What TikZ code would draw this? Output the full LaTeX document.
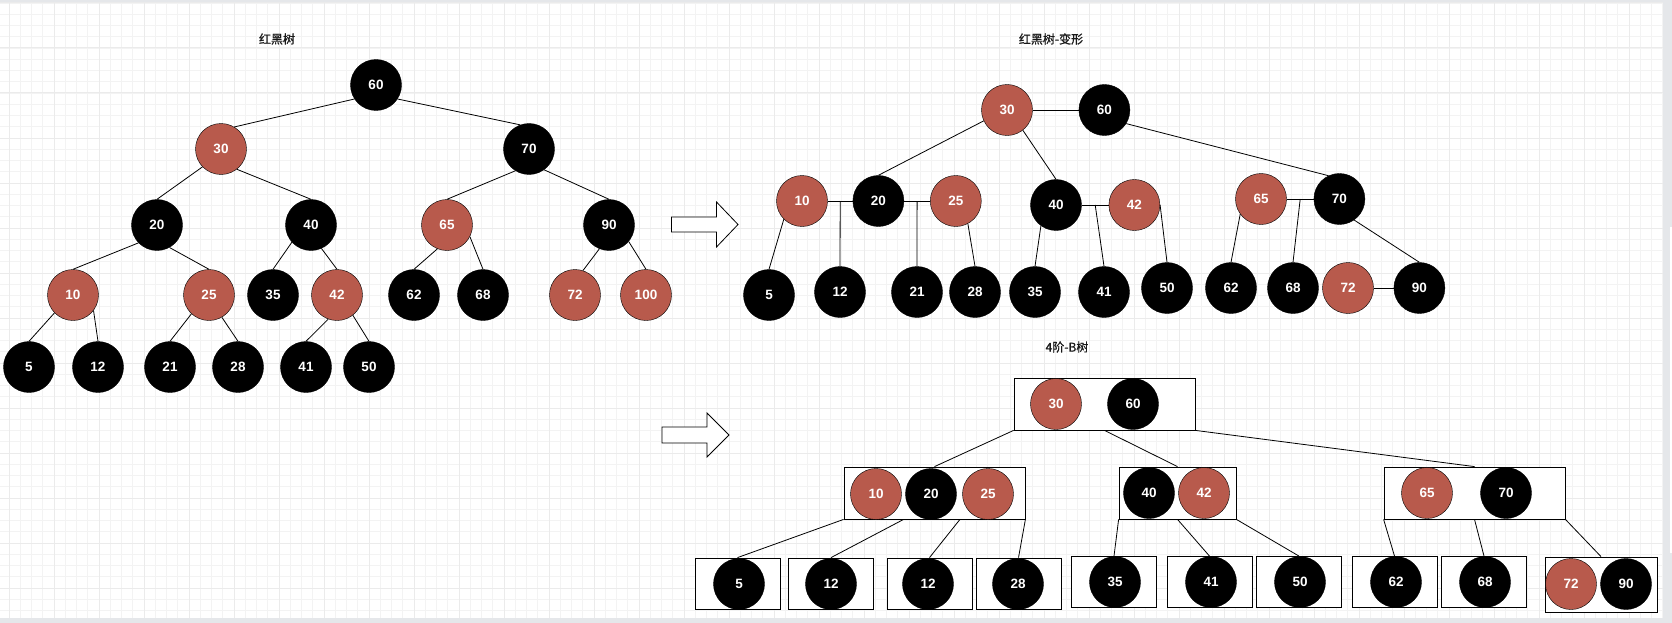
\documentclass[tikz,border=0pt]{standalone}
\usepackage{fontspec}
\setmainfont{Liberation Sans}
\newfontfamily\cjkfont[FakeBold=1]{Noto Sans CJK SC}
\usetikzlibrary{positioning, calc}
\definecolor{rbred}{HTML}{B85A4C}
\definecolor{framegray}{HTML}{E5E7EA}
\definecolor{gridminor}{HTML}{F3F3F3}
\definecolor{gridmajor}{HTML}{EBEBEB}

\begin{document}
\begin{tikzpicture}[x=1pt, y=-1pt, node distance=4pt and 4pt]
		% Styles
		\tikzstyle{blacknode} = [circle, draw, fill=black, text=white,
		minimum size=51pt, inner sep=0pt, font=\fontsize{13.5}{15}\selectfont\bfseries]
		\tikzstyle{rednode} = [blacknode, fill=rbred]
		\tikzstyle{keybox} = [rectangle, draw, fill=white, inner sep=0pt,
		minimum width=85pt, minimum height=51pt, line width=0.8pt]
		\tikzstyle{line} = [draw, line width=0.8pt]
		\tikzstyle{title} = [font=\cjkfont\fontsize{12}{14}\selectfont, text=black!90]
		\tikzstyle{bigarrow} = [draw, fill=white, line width=0.8pt]
		
		% Canvas
		\useasboundingbox (0,0) rectangle (1672,623);
		\fill[framegray] (0,0) rectangle (1672,623);
		\fill[white] (0,3) rectangle (1663,618);
		\fill[white] (1669.5,227) rectangle (1671.5,553);
		\begin{scope}
			\clip (0,3) rectangle (1663,618);
			\foreach \k in {0,...,147} \draw[gridminor, line width=0.8pt] ({9+11.25*\k},3) -- ++(0,615);
			\foreach \k in {0,...,54} \draw[gridminor, line width=0.8pt] (0,{3+11.25*\k}) -- ++(1663,0);
			\foreach \k in {0,...,36} \draw[gridmajor, line width=1pt] ({9+45*\k},3) -- ++(0,615);
			\foreach \k in {0,...,13} \draw[gridmajor, line width=1pt] (0,{3+45*\k}) -- ++(1663,0);
		\end{scope}
		
		% Titles
		\node [title] (title1) at (277,39) {红黑树};
		\node [title] (title2) at (1051,39) {红黑树-变形};
		\node [title] (title3) at (1067,347) {4阶-B树};
		
		% Red-black tree
		\node [blacknode] (t1n60) at (376,85) {60};
		\node [rednode] (t1n30) at (221,149) {30};
		\node [blacknode] (t1n70) at (529,149) {70};
		\node [blacknode] (t1n20) at (157,225) {20};
		\node [blacknode] (t1n40) at (311,225) {40};
		\node [rednode] (t1n65) at (447,225) {65};
		\node [blacknode] (t1n90) at (609,225) {90};
		\node [rednode] (t1n10) at (73,295) {10};
		\node [rednode] (t1n25) at (209,295) {25};
		\node [blacknode] (t1n35) at (273,295) {35};
		\node [rednode] (t1n42) at (337,295) {42};
		\node [blacknode] (t1n62) at (414,295) {62};
		\node [blacknode] (t1n68) at (483,295) {68};
		\node [rednode] (t1n72) at (575,295) {72};
		\node [rednode] (t1n100) at (646,295) {100};
		\node [blacknode] (t1n5) at (29,367) {5};
		\node [blacknode] (t1n12) at (98,367) {12};
		\node [blacknode] (t1n21) at (170,367) {21};
		\node [blacknode] (t1n28) at (238,367) {28};
		\node [blacknode] (t1n41) at (306,367) {41};
		\node [blacknode] (t1n50) at (369,367) {50};
		
		\path [line] (t1n60.213) -- (t1n30.59);
		\path [line] (t1n60.-33) -- (t1n70.110);
		\path [line] (t1n30.224) -- (t1n20.north);
		\path [line] (t1n30.-52) -- (t1n40.north);
		\path [line] (t1n70.-122) -- (t1n65.north);
		\path [line] (t1n70.-54) -- (t1n90.north);
		\path [line] (t1n20.224) -- (t1n10.north);
		\path [line] (t1n20.-61) -- (t1n25.north);
		\path [line] (t1n40.222) -- (t1n35.north);
		\path [line] (t1n40.-66) -- (t1n42.north);
		\path [line] (t1n65.-112) -- (t1n62.north);
		\path [line] (t1n65.-27) -- (t1n68.north);
		\path [line] (t1n90.-112) -- (t1n72.72);
		\path [line] (t1n90.-40) -- (t1n100.north);
		\path [line] (t1n10.224) -- (t1n5.north);
		\path [line] (t1n10.-37) -- (t1n12.north);
		\path [line] (t1n25.227) -- (t1n21.north);
		\path [line] (t1n25.-60) -- (t1n28.north);
		\path [line] (t1n42.-110) -- (t1n41.north);
		\path [line] (t1n42.-52) -- (t1n50.north);
		
		% Arrows
		\draw [bigarrow] (671.5,217) -- ++(45,0) -- ++(0,-15) -- ++(21.5,22.5)
			-- ++(-21.5,22.5) -- ++(0,-15) -- ++(-45,0) -- cycle;
		\draw [bigarrow] (662,427) -- ++(45,0) -- ++(0,-14) -- ++(22,22)
			-- ++(-22,22) -- ++(0,-14) -- ++(-45,0) -- cycle;
		
		% Red-black tree, variant
		\node [rednode] (t2n30) at (1007,110) {30};
		\node [blacknode, right=46pt of t2n30] (t2n60) {60};
		\node [rednode] (t2n10) at (802,201) {10};
		\node [blacknode, right=25pt of t2n10] (t2n20) {20};
		\node [rednode, right=26pt of t2n20] (t2n25) {25};
		\node [blacknode] (t2n40) at (1056,205) {40};
		\node [rednode, right=27pt of t2n40] (t2n42) {42};
		\node [rednode] (t2n65) at (1261,199) {65};
		\node [blacknode, right=27pt of t2n65] (t2n70) {70};
		\node [blacknode] (t2n5) at (769,295) {5};
		\node [blacknode] (t2n12) at (840,292) {12};
		\node [blacknode] (t2n21) at (917,292) {21};
		\node [blacknode] (t2n28) at (975,292) {28};
		\node [blacknode] (t2n35) at (1035,292) {35};
		\node [blacknode] (t2n41) at (1104,292) {41};
		\node [blacknode] (t2n50) at (1167,288) {50};
		\node [blacknode] (t2n62) at (1231,288) {62};
		\node [blacknode] (t2n68) at (1293,288) {68};
		\node [rednode] (t2n72) at (1348,288) {72};
		\node [blacknode, right=20pt of t2n72] (t2n90) {90};
		
		\path [line] (t2n30) -- (t2n60);
		\path [line] (t2n30.205) -- (t2n20.north);
		\path [line] (t2n30.-52) -- (t2n40.north);
		\path [line] (t2n60.-32) -- (t2n70.115);
		\path [line] (t2n10) -- coordinate[midway] (t2m12) (t2n20);
		\path [line] (t2n20) -- coordinate[midway] (t2m21) (t2n25);
		\path [line] (t2n40) -- coordinate[midway] (t2m41) (t2n42);
		\path [line] (t2n65) -- coordinate[midway] (t2m68) (t2n70);
		\path [line] (t2n72) -- (t2n90);
		\path [line] (t2n10.225) -- (t2n5.north);
		\path [line] (t2m12) -- (t2n12.north);
		\path [line] (t2m21) -- (t2n21.north);
		\path [line] (t2n25.-62) -- (t2n28.north);
		\path [line] (t2n40.-126) -- (t2n35.north);
		\path [line] (t2m41) -- (t2n41.north);
		\path [line] (t2n42.east) -- (t2n50.north);
		\path [line] (t2n65.-144) -- (t2n62.north);
		\path [line] (t2m68) -- (t2n68.north);
		\path [line] (t2n70.-55) -- (t2n90.north);
		
		% B-tree of order 4
		\node [keybox, minimum width=181pt, minimum height=52pt] (t3root) at (1104.5,404) {};
		\node [keybox, minimum width=181pt, minimum height=52pt] (t3L) at (934.5,493) {};
		\node [keybox, minimum width=117pt, minimum height=52pt] (t3M) at (1177.5,493) {};
		\node [keybox, minimum width=181pt, minimum height=52pt] (t3R) at (1474.5,493) {};
		\node [keybox] (t3b5) at (737.5,583.5) {};
		\node [keybox] (t3b12) at (831,583.5) {};
		\node [keybox] (t3b12b) at (929.5,583.5) {};
		\node [keybox] (t3b28) at (1018.5,583.5) {};
		\node [keybox] (t3b35) at (1114,582) {};
		\node [keybox] (t3b41) at (1209.5,582) {};
		\node [keybox] (t3b50) at (1299,582) {};
		\node [keybox] (t3b62) at (1394.5,582) {};
		\node [keybox] (t3b68) at (1484,582) {};
		\node [keybox, minimum width=112pt, minimum height=55pt] (t3b72) at (1601,584.5) {};
		
		\node [rednode] (t3n30) at (1056,404) {30};
		\node [blacknode] (t3n60) at (1133,404) {60};
		\node [rednode] (t3n10) at (876,494) {10};
		\node [blacknode] (t3n20) at (931,494) {20};
		\node [rednode] (t3n25) at (988,494) {25};
		\node [blacknode] (t3n40) at (1149,493) {40};
		\node [rednode] (t3n42) at (1204,493) {42};
		\node [rednode] (t3n65) at (1427,493) {65};
		\node [blacknode] (t3n70) at (1506,493) {70};
		\node [blacknode] (t3n5) at (739,584) {5};
		\node [blacknode] (t3n12) at (831,584) {12};
		\node [blacknode] (t3n12b) at (928,584) {12};
		\node [blacknode] (t3n28) at (1018,584) {28};
		\node [blacknode] (t3n35) at (1115,582) {35};
		\node [blacknode] (t3n41) at (1211,582) {41};
		\node [blacknode] (t3n50) at (1300,582) {50};
		\node [blacknode] (t3n62) at (1396,582) {62};
		\node [blacknode] (t3n68) at (1485,582) {68};
		\node [rednode] (t3n72) at (1571,584) {72};
		\node [blacknode] (t3n90) at (1626,584) {90};
		
		\path [line] (t3root.south west) -- (t3L.north);
		\path [line] (t3root.south) -- (t3M.north);
		\path [line] (t3root.south east) -- (t3R.north);
		\path [line] (t3L.south west) -- (t3b5.north);
		\path [line] ($(t3L.south west)!0.33!(t3L.south east)$) -- (t3b12.north);
		\path [line] ($(t3L.south west)!0.64!(t3L.south east)$) -- (t3b12b.north);
		\path [line] (t3L.south east) -- (t3b28.north);
		\path [line] (t3M.south west) -- (t3b35.north);
		\path [line] (t3M.south) -- (t3b41.north);
		\path [line] (t3M.south east) -- (t3b50.north);
		\path [line] (t3R.south west) -- (t3b62.north);
		\path [line] (t3R.south) -- (t3b68.north);
		\path [line] (t3R.south east) -- (t3b72.north);
	\end{tikzpicture}
\end{document}
